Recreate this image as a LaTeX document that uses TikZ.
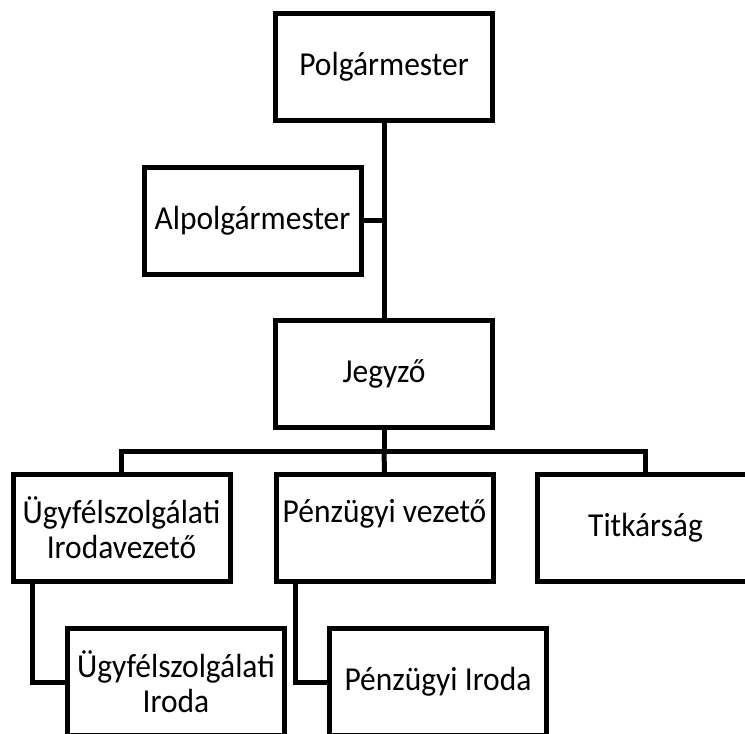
\documentclass[tikz,border=0pt]{standalone}
\usepackage{fontspec}
\setmainfont[FakeStretch=0.94]{Carlito}
\usetikzlibrary{positioning}
\tikzset{
    unit/.style={rectangle, draw, line width=5pt, minimum width=217pt, minimum height=107pt,
                 inner sep=0pt, align=center, font=\fontsize{33.5}{35}\selectfont},
    link/.style={draw, line width=5pt}
}

\begin{document}
\begin{tikzpicture}[x=1pt, y=-1pt]
    \useasboundingbox (0,0) rectangle (745,734);
    % Nodes
    \node[unit] (polg) at (384,67) {Polgármester};
    \node[unit] (alpolg) at (252.5,220.5) {Alpolgármester};
    \node[unit] (jegyzo) at (384,374) {Jegyző};
    \node[unit] (ugyvez) at (121.5,528) {Ügyfélszolgálati\\Irodavezető};
    \node[unit] (penzvez) at (384.5,528) {Pénzügyi vezető\\\mbox{}};
    \node[unit] (titk) at (645.5,528) {Titkárság};
    \node[unit] (ugyiroda) at (176,682) {Ügyfélszolgálati\\Iroda};
    \node[unit] (penziroda) at (438,682) {Pénzügyi Iroda};

    % bus points
    \coordinate (bus) at (384,451);
    \coordinate (busL) at (ugyvez.north |- bus);
    \coordinate (busR) at (titk.north |- bus);

    % edges
    \draw[link] (polg) -- (jegyzo);
    \draw[link] (alpolg.east) -- (alpolg.east -| polg.south);
    \draw[link] (jegyzo) -- (bus);
    \draw[link] (ugyvez.north) -- (busL) -- (busR) -- (titk.north);
    \draw[link] (bus) -- (penzvez.north);
    \draw[link] ([xshift=22pt]ugyvez.south west) |- (ugyiroda.west);
    \draw[link] ([xshift=22pt]penzvez.south west) |- (penziroda.west);
\end{tikzpicture}
\end{document}
